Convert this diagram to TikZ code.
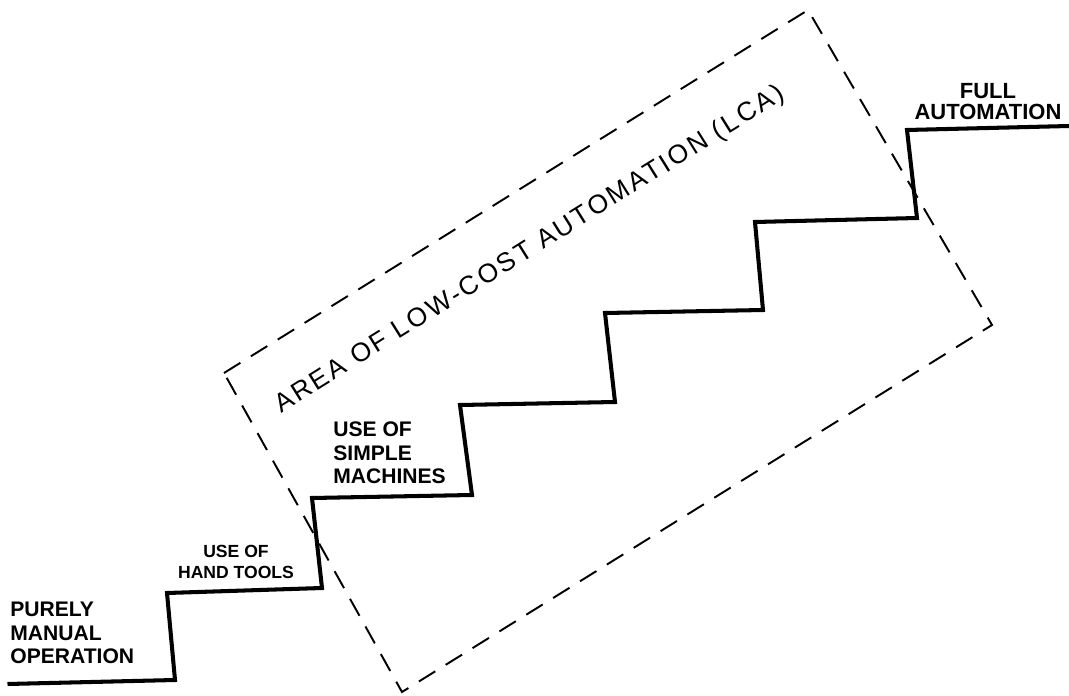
\documentclass[tikz,border=0pt]{standalone}
\usepackage{fontspec}
\setmainfont{Liberation Sans}
\newfontfamily\handfont[LetterSpace=10]{Liberation Sans}
\begin{document}
\begin{tikzpicture}[stair/.style={line width=2.3pt, line join=miter},
  zone/.style={line width=1.1pt, dash pattern=on 11pt off 7pt},
  lbl/.style={font=\bfseries\fontsize{12}{13.3}\selectfont, inner sep=0pt}]
\useasboundingbox (0,0) rectangle (21.38,13.9);
% the steps
\draw[stair] (0.15,0.22)--(3.5,0.3)--(3.34,2.04)--(6.44,2.14)--(6.24,3.94)--(9.44,4.0)
  --(9.2,5.8)--(12.3,5.86)--(12.1,7.64)--(15.26,7.7)--(15.1,9.46)--(18.34,9.54)
  --(18.14,11.3)--(21.38,11.38);
% low-cost area
\coordinate (L) at (4.48,6.44);
\coordinate (T) at (16.16,13.7);
\coordinate (R) at (19.84,7.4);
\coordinate (B) at (8.04,0.06);
\draw[zone] (L)--(T)--(R)--(B)--cycle;
\node[rotate=32, font=\handfont\fontsize{15}{17}\selectfont] (area) at (10.6,8.9) {AREA OF LOW-COST AUTOMATION (LCA)};
% step labels
\node[lbl, anchor=west, align=left] (manual) at (0.2,1.24) {PURELY\\MANUAL\\OPERATION};
\node[lbl, font=\bfseries\fontsize{10}{12}\selectfont, align=center] (hand) at (4.72,2.66) {USE OF\\HAND TOOLS};
\node[lbl, anchor=west, align=left] (simple) at (6.66,4.84) {USE OF\\SIMPLE\\MACHINES};
\node[lbl, font=\bfseries\fontsize{12.5}{11.5}\selectfont, align=center] (full) at (19.76,11.87) {FULL\\AUTOMATION};
\end{tikzpicture}
\end{document}
